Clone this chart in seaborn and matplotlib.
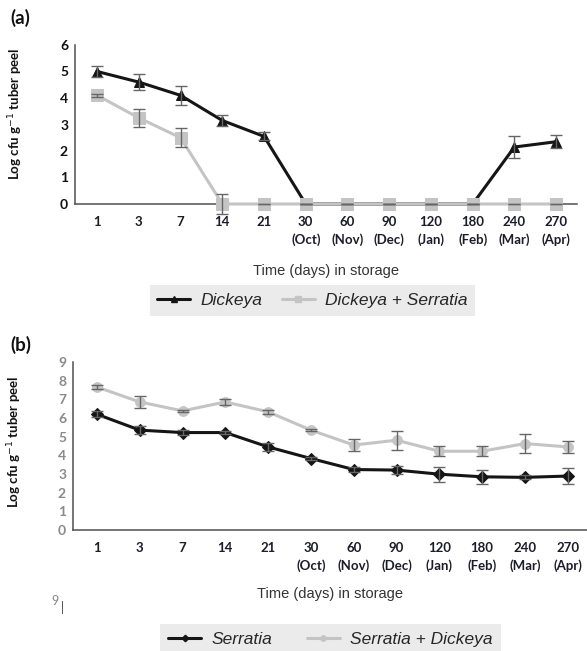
import numpy as np
import pandas as pd
import matplotlib
matplotlib.use("Agg")
import matplotlib.pyplot as plt
import seaborn as sns
from matplotlib.lines import Line2D

# Données
days = ["1", "3", "7", "14", "21", "30", "60", "90", "120", "180", "240", "270"]
months = ["", "", "", "", "", "(Oct)", "(Nov)", "(Dec)", "(Jan)", "(Feb)", "(Mar)", "(Apr)"]

dickeya = [5.0, 4.6, 4.1, 3.15, 2.55, 0, 0, 0, 0, 0, 2.15, 2.35]
dickeya_err = [0.2, 0.3, 0.35, 0.2, 0.15, 0, 0, 0, 0, 0, 0.4, 0.25]
dick_serr = [4.1, 3.25, 2.5, 0, 0, 0, 0, 0, 0, 0, 0, 0]
dick_serr_err = [0.05, 0.35, 0.35, 0.38, 0, 0, 0, 0, 0, 0, 0, 0]

serratia = [6.2, 5.35, 5.22, 5.22, 4.45, 3.83, 3.24, 3.21, 2.99, 2.85, 2.82, 2.89]
serratia_err = [0.15, 0.2, 0.15, 0.1, 0.2, 0.1, 0.15, 0.2, 0.4, 0.37, 0.1, 0.41]
serr_dick = [7.66, 6.86, 6.38, 6.86, 6.33, 5.35, 4.55, 4.81, 4.22, 4.22, 4.63, 4.45]
serr_dick_err = [0.1, 0.3, 0.05, 0.15, 0.1, 0.05, 0.32, 0.52, 0.27, 0.27, 0.5, 0.3]

sns.set_style("white")
plt.rcParams["font.family"] = ["Lato", "DejaVu Sans"]

W, H = 587, 651
fig = plt.figure(figsize=(W / 100, H / 100), dpi=100)

BLACK = "#151515"
GREY = "#c4c4c4"
pos = np.arange(len(days))
xlabels = [d + "\n" + m for d, m in zip(days, months)]


def panel(rect, xlim, ylim, series, ytick_color, tag, tag_y, leg_xy, colsp):
    ax = fig.add_axes(rect)
    handles = []
    for name, vals, errs, color, marker, ms in series:
        df = pd.DataFrame({"x": pos, "y": vals})
        sns.lineplot(data=df, x="x", y="y", ax=ax, color=color, lw=2.2,
                     marker=marker, markersize=ms, markeredgecolor=color,
                     clip_on=False, zorder=3)
        ax.errorbar(pos, vals, yerr=errs, fmt="none", ecolor="#666666",
                    elinewidth=1, capsize=4, capthick=1, zorder=4, clip_on=False)
        handles.append(Line2D([], [], color=color, lw=2.2, marker=marker,
                              markersize=ms * 0.55, label=name))
    ax.set_xlim(*xlim)
    ax.set_ylim(*ylim)
    ax.set_xticks(pos)
    ax.set_xticklabels(xlabels, fontweight="bold", fontsize=9.5,
                       color="#1c1c2a", linespacing=1.45, va="top")
    ax.set_yticks(range(ylim[1] + 1))
    ax.set_yticklabels([str(v) for v in range(ylim[1] + 1)], fontweight="bold",
                       fontsize=10, color=ytick_color)
    ax.tick_params(axis="both", length=0, pad=5)
    ax.tick_params(axis="x", pad=9)
    for s in ["top", "right"]:
        ax.spines[s].set_visible(False)
    for s in ["left", "bottom"]:
        ax.spines[s].set_color("#505050")
        ax.spines[s].set_linewidth(1.1)
    ax.set_xlabel("Time (days) in storage", family="Liberation Sans",
                  fontsize=10.5, color="#333333", labelpad=13)
    ax.set_ylabel("Log cfu g$^{-1}$ tuber peel", fontweight="bold",
                  fontsize=9.5, color="#111111")
    fig.text(10 / W, 1 - tag_y / H, tag, fontweight="bold", fontsize=13.5,
             va="center", ha="left", color="#111111")
    leg = fig.legend(handles=handles, loc="center", ncol=2,
                     bbox_to_anchor=(leg_xy[0] / W, 1 - leg_xy[1] / H),
                     prop={"family": "Liberation Sans", "style": "italic", "size": 12.5},
                     frameon=True, fancybox=False, handlelength=1.9,
                     handletextpad=0.6, columnspacing=colsp, borderpad=0.45)
    leg.get_frame().set_facecolor("#e6e6e6")
    leg.get_frame().set_edgecolor("none")
    return ax


ax_a = panel([75 / W, 1 - 204 / H, 502 / W, 159 / H], (-0.53, 11.5), (0, 6),
             [("Dickeya", dickeya, dickeya_err, BLACK, "^", 7),
              ("Dickeya + Serratia", dick_serr, dick_serr_err, GREY, "s", 8.5)],
             "#111111", "(a)", 18, (312.5, 300.5), 1.1)
ax_a.yaxis.set_label_coords(-0.10, 0.57)

ax_b = panel([73 / W, 1 - 530 / H, 514 / W, 168 / H], (-0.56, 11.45), (0, 9),
             [("Serratia", serratia, serratia_err, BLACK, "D", 6),
              ("Serratia + Dickeya", serr_dick, serr_dick_err, GREY, "o", 7)],
             "#8a8a8a", "(b)", 345, (330.5, 639), 2.0)
ax_b.yaxis.set_label_coords(-0.095, 0.527)
ax_b.xaxis.labelpad = 11

# petit artefact "9 |" sous le panneau (b)
fig.text(51 / W, 1 - 601 / H, "9", fontsize=9, color="#888888", va="center")
fig.text(61 / W, 1 - 608 / H, "|", fontsize=9, color="#444444", va="center")

fig.savefig("out.png", dpi=100)
